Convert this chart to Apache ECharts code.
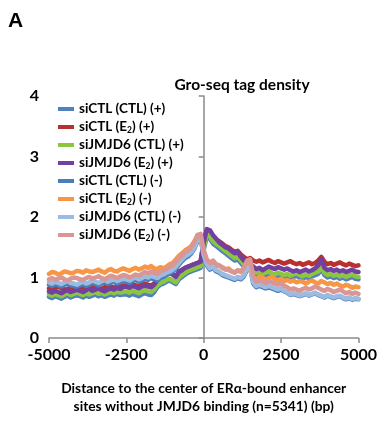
<!DOCTYPE html>
<html>
<head>
<meta charset="utf-8">
<script src="https://cdn.jsdelivr.net/npm/echarts@6/dist/echarts.min.js"></script>
<style>
  html, body { margin: 0; padding: 0; background: #fff; }
  #chart { width: 380px; height: 421px; }
</style>
</head>
<body>
<div id="chart"></div>
<script>
// Distance bins (bp), 100 bp steps from -5000 to 5000
var binStart = -5000, binStep = 100, binCount = 101;
var positions = [];
for (var i = 0; i < binCount; i++) positions.push(binStart + i * binStep);

var xTicks = [-5000, -2500, 0, 2500, 5000];
var yTicks = [0, 1, 2, 3, 4];

var seriesNames = [
  'siCTL (CTL) (+)', 'siCTL (E2) (+)', 'siJMJD6 (CTL) (+)', 'siJMJD6 (E2) (+)',
  'siCTL (CTL) (-)', 'siCTL (E2) (-)', 'siJMJD6 (CTL) (-)', 'siJMJD6 (E2) (-)'
];

// Tag density per bin
var siCTL_CTL_plus = [
  0.68,0.66,0.69,0.67,0.65,0.68,0.70,0.67,0.69,0.71,0.69,0.67,0.70,0.68,0.70,0.72,0.69,0.71,0.68,0.70,0.72,0.70,0.73,0.71,0.72,
  0.72,0.70,0.73,0.71,0.69,0.72,0.74,0.72,0.71,0.76,0.84,0.88,0.90,0.93,0.95,0.92,0.89,0.97,1.01,1.05,1.08,1.10,1.12,1.14,1.16,
  1.46,
  1.68,1.64,1.56,1.52,1.48,1.44,1.40,1.36,1.32,1.28,1.30,1.24,1.18,1.14,1.12,1.08,1.04,1.06,1.02,1.04,1.06,1.03,1.01,1.04,1.02,
  1.00,1.02,0.99,1.01,1.03,1.00,0.98,1.01,0.99,1.02,1.04,1.06,1.14,1.04,1.00,1.02,0.99,1.01,0.98,1.00,0.97,0.99,1.01,0.98,0.97
];
var siCTL_E2_plus = [
  0.82,0.80,0.83,0.85,0.82,0.80,0.81,0.84,0.82,0.79,0.82,0.84,0.83,0.81,0.84,0.86,0.83,0.81,0.84,0.86,0.85,0.83,0.86,0.88,0.86,
  0.88,0.86,0.89,0.87,0.85,0.88,0.90,0.88,0.87,0.90,0.98,1.02,1.03,1.06,1.08,1.05,1.02,1.10,1.13,1.16,1.18,1.20,1.22,1.24,1.27,
  1.60,
  1.78,1.76,1.68,1.62,1.60,1.56,1.52,1.50,1.46,1.42,1.44,1.38,1.34,1.30,1.32,1.28,1.26,1.28,1.25,1.27,1.29,1.26,1.24,1.27,1.25,
  1.23,1.25,1.27,1.24,1.22,1.24,1.21,1.23,1.25,1.22,1.24,1.28,1.34,1.26,1.22,1.24,1.21,1.23,1.25,1.22,1.20,1.23,1.21,1.19,1.20
];
var siJMJD6_CTL_plus = [
  0.72,0.70,0.73,0.71,0.69,0.72,0.74,0.71,0.73,0.75,0.73,0.71,0.74,0.72,0.74,0.76,0.73,0.75,0.72,0.74,0.76,0.74,0.77,0.75,0.76,
  0.77,0.75,0.78,0.76,0.74,0.77,0.79,0.77,0.76,0.80,0.87,0.91,0.93,0.96,0.98,0.95,0.92,1.00,1.04,1.08,1.11,1.13,1.15,1.17,1.19,
  1.50,
  1.72,1.68,1.60,1.56,1.52,1.48,1.44,1.40,1.36,1.32,1.34,1.28,1.22,1.18,1.16,1.12,1.08,1.10,1.06,1.08,1.10,1.07,1.05,1.08,1.06,
  1.04,1.06,1.03,1.05,1.07,1.04,1.02,1.05,1.03,1.06,1.08,1.10,1.18,1.08,1.04,1.06,1.03,1.05,1.02,1.04,1.01,1.03,1.05,1.02,1.01
];
var siJMJD6_E2_plus = [
  0.77,0.75,0.78,0.76,0.74,0.77,0.79,0.76,0.78,0.80,0.78,0.76,0.79,0.81,0.78,0.80,0.82,0.79,0.77,0.80,0.82,0.80,0.83,0.81,0.84,
  0.85,0.83,0.86,0.84,0.82,0.85,0.87,0.85,0.84,0.88,0.96,1.00,1.02,1.06,1.08,1.05,1.01,1.09,1.12,1.16,1.18,1.20,1.22,1.24,1.26,
  1.58,
  1.80,1.78,1.70,1.64,1.58,1.54,1.50,1.48,1.44,1.40,1.42,1.34,1.28,1.24,1.22,1.18,1.14,1.16,1.12,1.15,1.18,1.16,1.14,1.17,1.15,
  1.13,1.15,1.12,1.10,1.12,1.09,1.11,1.13,1.10,1.12,1.15,1.20,1.30,1.16,1.12,1.14,1.11,1.13,1.10,1.12,1.09,1.11,1.13,1.10,1.09
];
var siCTL_CTL_minus = [
  0.88,0.86,0.89,0.87,0.85,0.88,0.90,0.87,0.86,0.85,0.87,0.89,0.86,0.88,0.91,0.89,0.87,0.90,0.92,0.89,0.91,0.93,0.90,0.92,0.94,
  0.93,0.91,0.94,0.96,0.93,0.95,0.98,0.96,0.99,0.97,0.95,0.99,1.01,1.04,1.07,1.10,1.15,1.21,1.27,1.32,1.35,1.40,1.48,1.60,1.64,
  1.36,
  1.20,1.13,1.16,1.10,1.08,1.04,1.02,1.00,0.98,0.96,0.99,0.97,1.02,1.13,1.16,0.90,0.84,0.86,0.84,0.82,0.84,0.82,0.80,0.78,0.80,
  0.77,0.75,0.71,0.73,0.71,0.69,0.71,0.73,0.70,0.72,0.74,0.71,0.69,0.67,0.70,0.68,0.66,0.68,0.69,0.66,0.64,0.66,0.63,0.65,0.64
];
var siCTL_E2_minus = [
  1.06,1.09,1.08,1.05,1.07,1.10,1.09,1.07,1.08,1.11,1.10,1.08,1.12,1.10,1.09,1.11,1.13,1.10,1.08,1.12,1.14,1.11,1.10,1.13,1.15,
  1.13,1.11,1.14,1.16,1.13,1.15,1.18,1.16,1.19,1.15,1.14,1.17,1.15,1.18,1.22,1.24,1.30,1.36,1.40,1.45,1.48,1.52,1.60,1.70,1.66,
  1.40,
  1.25,1.20,1.22,1.18,1.20,1.16,1.13,1.15,1.10,1.08,1.12,1.09,1.15,1.24,1.12,1.00,0.97,1.02,1.00,0.96,0.99,1.01,0.97,0.95,0.98,
  0.94,0.96,0.93,0.95,0.92,0.94,0.93,0.90,0.93,0.95,0.92,0.90,0.94,0.92,0.89,0.91,0.88,0.90,0.87,0.85,0.88,0.86,0.83,0.85,0.84
];
var siJMJD6_CTL_minus = [
  0.92,0.90,0.93,0.91,0.89,0.92,0.94,0.91,0.90,0.88,0.91,0.93,0.90,0.92,0.95,0.93,0.91,0.94,0.96,0.93,0.95,0.97,0.94,0.96,0.98,
  0.97,0.95,0.98,1.00,0.97,0.99,1.02,1.00,1.03,1.01,0.99,1.03,1.05,1.08,1.10,1.13,1.18,1.24,1.30,1.35,1.38,1.42,1.50,1.62,1.66,
  1.38,
  1.22,1.15,1.18,1.12,1.10,1.06,1.04,1.02,1.00,0.98,1.01,0.99,1.04,1.15,1.18,0.92,0.86,0.88,0.86,0.84,0.86,0.84,0.82,0.80,0.82,
  0.78,0.76,0.72,0.74,0.72,0.70,0.72,0.74,0.71,0.73,0.75,0.72,0.70,0.68,0.71,0.69,0.67,0.69,0.70,0.67,0.65,0.67,0.64,0.66,0.65
];
var siJMJD6_E2_minus = [
  0.97,0.99,0.96,0.98,1.00,0.97,0.95,0.98,1.00,0.99,0.97,0.96,0.99,1.01,0.98,1.00,1.02,0.99,0.97,1.00,1.03,1.01,0.99,1.02,1.04,
  1.03,1.00,1.02,1.05,1.03,1.06,1.09,1.07,1.10,1.08,1.06,1.10,1.12,1.14,1.18,1.20,1.26,1.31,1.36,1.42,1.45,1.50,1.58,1.70,1.72,
  1.45,
  1.30,1.24,1.28,1.22,1.20,1.17,1.14,1.12,1.10,1.08,1.12,1.10,1.16,1.28,1.30,1.02,0.93,0.95,0.93,0.91,0.94,0.92,0.90,0.88,0.91,
  0.86,0.84,0.80,0.82,0.80,0.78,0.81,0.83,0.80,0.82,0.85,0.83,0.80,0.78,0.81,0.79,0.76,0.78,0.80,0.77,0.74,0.76,0.73,0.75,0.73
];

var seriesValues = [
  siCTL_CTL_plus, siCTL_E2_plus, siJMJD6_CTL_plus, siJMJD6_E2_plus,
  siCTL_CTL_minus, siCTL_E2_minus, siJMJD6_CTL_minus, siJMJD6_E2_minus
];
var seriesColors = ['#4F81BD', '#B8312F', '#8CC63F', '#7140A0', '#4A7EBB', '#F79646', '#9DBBE0', '#DA9694'];

var FONT = 'Lato, "Open Sans", sans-serif';

function pairs(vals) {
  return vals.map(function (v, i) { return [positions[i], v]; });
}

// Legend labels with a subscript 2 in "E2"
function legendLabel(name) {
  var idx = name.indexOf('E2');
  if (idx < 0) return '{b|' + name + '}';
  return '{b|' + name.slice(0, idx + 1) + '}{s|2}{b|' + name.slice(idx + 2) + '}';
}

var chart = echarts.init(document.getElementById('chart'), null, { renderer: 'canvas' });

chart.setOption({
  animation: false,
  backgroundColor: '#ffffff',
  title: {
    text: 'Gro-seq tag density',
    left: 237,
    top: 72,
    textAlign: 'center',
    textStyle: { fontFamily: FONT, fontWeight: 'bold', fontSize: 15.5, color: '#000' }
  },
  graphic: [{
    type: 'text',
    left: 8,
    top: 11,
    style: { text: 'A', font: 'bold 21px Arial, "Liberation Sans", sans-serif', fill: '#000' }
  }],
  legend: {
    orient: 'vertical',
    left: 53,
    top: 97,
    icon: 'rect',
    itemWidth: 16,
    itemHeight: 4,
    itemGap: 3.5,
    data: seriesNames,
    formatter: legendLabel,
    textStyle: {
      rich: {
        b: { fontFamily: FONT, fontWeight: 'bold', fontSize: 13.5, color: '#000', lineHeight: 14 },
        s: { fontFamily: FONT, fontWeight: 'bold', fontSize: 8.5, color: '#000', lineHeight: 14, padding: [6, 0, 0, 0] }
      }
    }
  },
  grid: { left: 49, right: 20, top: 96, bottom: 79, containLabel: false },
  xAxis: {
    type: 'value',
    min: xTicks[0],
    max: xTicks[xTicks.length - 1],
    interval: 2500,
    splitLine: { show: false },
    axisLine: { lineStyle: { color: '#8a8a8a', width: 1.5 } },
    axisTick: { show: true, inside: false, length: 5, lineStyle: { color: '#8a8a8a', width: 1.5 } },
    axisLabel: {
      margin: 9, fontFamily: FONT, fontWeight: 'bold', fontSize: 16, color: '#000',
      formatter: function (v) { return String(v); }
    },
    name: 'Distance to the center of ERα-bound enhancer\nsites without JMJD6 binding (n=5341) (bp)',
    nameLocation: 'middle',
    nameGap: 42,
    nameTextStyle: { fontFamily: FONT, fontWeight: 'bold', fontSize: 13.8, color: '#000', lineHeight: 18 }
  },
  yAxis: {
    type: 'value',
    min: yTicks[0],
    max: yTicks[yTicks.length - 1],
    interval: 1,
    splitLine: { show: false },
    axisLine: { show: true, lineStyle: { color: '#8a8a8a', width: 1.5 } },
    axisTick: { show: true, inside: false, length: 5, lineStyle: { color: '#8a8a8a', width: 1.5 } },
    axisLabel: { margin: 10, fontFamily: FONT, fontWeight: 'bold', fontSize: 16, color: '#000' }
  },
  series: seriesNames.map(function (name, k) {
    return {
      name: name,
      type: 'line',
      data: pairs(seriesValues[k]),
      showSymbol: false,
      symbol: 'none',
      smooth: false,
      color: seriesColors[k],
      lineStyle: { width: 4.5, color: seriesColors[k], join: 'round', cap: 'round' },
      z: 2 + k
    };
  })
});
</script>
</body>
</html>
